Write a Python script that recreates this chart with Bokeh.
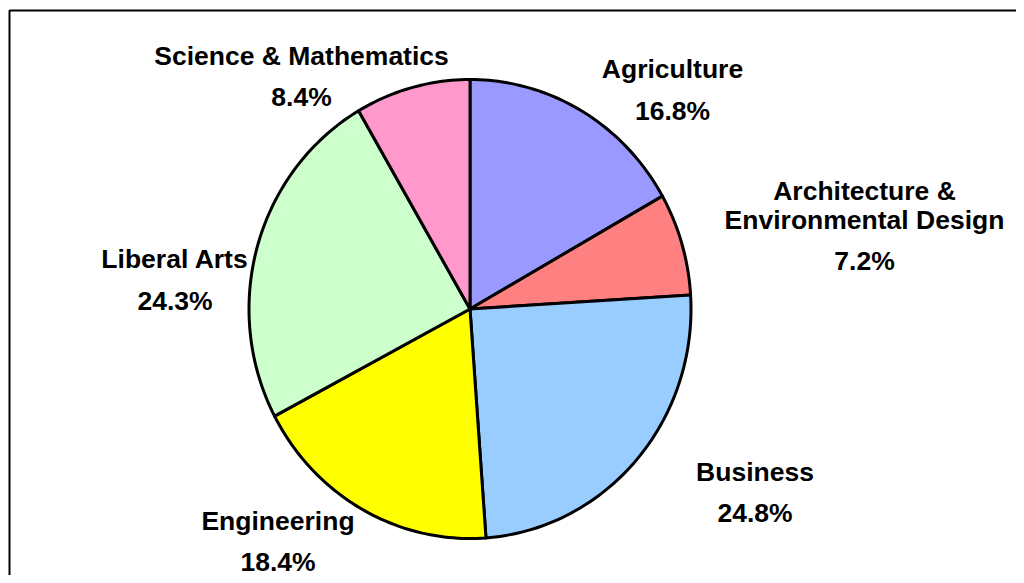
import math
from bokeh.plotting import figure
from bokeh.models import ColumnDataSource, Range1d
from bokeh.core.properties import value
from bokeh.embed import file_html
from bokeh.resources import INLINE

# ---- data ----
categories = ["Agriculture", "Architecture &\nEnvironmental Design", "Business",
              "Engineering", "Liberal Arts", "Science & Mathematics"]
shares = [16.8, 7.2, 24.8, 18.4, 24.3, 8.4]
colors = ["#9999FF", "#FF8080", "#99CCFF", "#FFFF00", "#CCFFCC", "#FF99CC"]

# ---- layout (picture pixel coordinates) ----
W, H = 1016, 575
CX, CY, RX, RY = 469.5, 308.5, 221.0, 229.5
# label anchor: (center x, baseline of name's last line)
label_pos = [(672, 77.5), (864, 228), (754.5, 480), (277.5, 529), (174.5, 267.5), (301, 64)]
TEXT_SHIFT = -9    # compensates the renderer's baseline offset
LINE_GAP = 29      # between the lines of a wrapped name
PCT_GAP = 41.5     # from the name's last line to the percentage

p = figure(width=W, height=H, output_backend="svg", toolbar_location=None,
           x_range=Range1d(0, W), y_range=Range1d(H, 0),
           min_border=0, x_axis_type=None, y_axis_type=None)
p.grid.visible = False
p.outline_line_color = None
p.background_fill_color = "white"
p.border_fill_color = "white"

# chart frame (its right and bottom edges lie outside the window)
p.quad(left=[9], right=[1200], top=[10], bottom=[800], fill_alpha=0,
       line_color="black", line_width=2)

# ---- pie slices (clockwise from 12 o'clock) ----
total = sum(shares)
xs, ys = [], []
start = 0.0
for s in shares:
    a0 = start / total * 2 * math.pi
    a1 = (start + s) / total * 2 * math.pi
    n = max(8, int(s * 3))
    px, py = [CX], [CY]
    for i in range(n + 1):
        t = a0 + (a1 - a0) * i / n
        px.append(CX + RX * math.sin(t))
        py.append(CY - RY * math.cos(t))
    xs.append(px)
    ys.append(py)
    start += s

p.patches(xs="xs", ys="ys", fill_color="color", line_color="black", line_width=3,
          line_join="round",
          source=ColumnDataSource(dict(xs=xs, ys=ys, color=colors)))

# ---- labels ----
tx, ty, tt = [], [], []
for name, share, (lx, ly) in zip(categories, shares, label_pos):
    ly = ly + TEXT_SHIFT
    lines = name.split("\n")
    for k, ln in enumerate(lines):
        tx.append(lx)
        ty.append(ly - (len(lines) - 1 - k) * LINE_GAP)
        tt.append(ln)
    tx.append(lx)
    ty.append(ly + PCT_GAP)
    tt.append(f"{share:.1f}%")

p.text(x="x", y="y", text="t", source=ColumnDataSource(dict(x=tx, y=ty, t=tt)),
       text_font=value("Liberation Sans"), text_font_style="bold",
       text_font_size="26.5px", text_align="center", text_baseline="alphabetic",
       text_color="black")

open("out.html", "w").write(file_html(p, INLINE))
